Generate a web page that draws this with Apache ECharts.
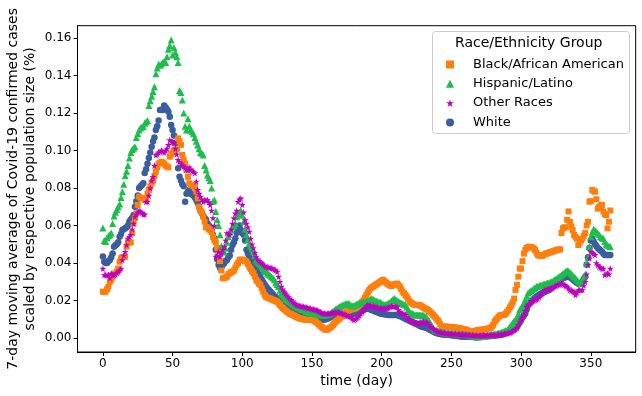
<!DOCTYPE html>
<html>
<head>
<meta charset="utf-8">
<script src="https://cdn.jsdelivr.net/npm/echarts@6/dist/echarts.min.js"></script>
<style>
html,body{margin:0;padding:0;background:#fff;}
#chart{width:642px;height:396px;}
</style>
</head>
<body>
<div id="chart"></div>
<script>
// group names, as in the legend
var groups = ['Black/African American', 'Hispanic/Latino', 'Other Races', 'White'];

var xTicks = [0, 50, 100, 150, 200, 250, 300, 350];
var yTicks = [0, 0.02, 0.04, 0.06, 0.08, 0.10, 0.12, 0.14, 0.16];

// 7-day moving average, % of population, day 0..364
var black = [
.0247,.0245,.0247,.0260,.0274,.0300,.0310,.0327,.0340,.0345,
.0354,.0370,.0407,.0425,.0430,.0432,.0434,.0487,.0510,.0510,
.0510,.0560,.0610,.0640,.0665,.0710,.0754,.0748,.0745,.0745,
.0736,.0745,.0770,.0790,.0807,.0825,.0840,.0865,.0887,.0910,
.0930,.0935,.0940,.0935,.0930,.0920,.0915,.0910,.0967,.0980,
.0990,.1000,.1005,.1010,.1065,.1050,.1030,.0976,.0950,.0930,
.0896,.0860,.0825,.0816,.0815,.0810,.0807,.0780,.0745,.0700,
.0680,.0670,.0647,.0620,.0590,.0590,.0580,.0576,.0565,.0540,
.0520,.0510,.0480,.0460,.0410,.0360,.0318,.0320,.0323,.0327,
.0340,.0345,.0350,.0354,.0360,.0375,.0390,.0400,.0416,.0418,
.0418,.0416,.0410,.0407,.0395,.0380,.0368,.0355,.0345,.0328,
.0310,.0300,.0290,.0283,.0265,.0247,.0230,.0220,.0215,.0212,
.0210,.0206,.0203,.0200,.0197,.0194,.0185,.0176,.0167,.0160,
.0153,.0146,.0140,.0135,.0130,.0127,.0123,.0120,.0116,.0112,
.0108,.0105,.0103,.0101,.0099,.0098,.0096,.0096,.0096,.0096,
.0096,.0096,.0090,.0084,.0078,.0072,.0065,.0058,.0052,.0047,
.0043,.0045,.0050,.0055,.0060,.0068,.0078,.0087,.0093,.0098,
.0105,.0113,.0122,.0130,.0135,.0140,.0145,.0150,.0152,.0154,
.0156,.0158,.0164,.0170,.0176,.0184,.0192,.0200,.0215,.0230,
.0242,.0255,.0265,.0270,.0274,.0280,.0285,.0290,.0295,.0300,
.0305,.0310,.0303,.0296,.0290,.0285,.0280,.0277,.0282,.0286,
.0288,.0290,.0282,.0274,.0260,.0247,.0238,.0229,.0220,.0207,
.0194,.0188,.0183,.0179,.0176,.0176,.0176,.0176,.0171,.0167,
.0162,.0158,.0154,.0150,.0143,.0137,.0130,.0122,.0114,.0105,
.0096,.0087,.0073,.0060,.0060,.0060,.0060,.0060,.0059,.0058,
.0057,.0057,.0056,.0055,.0054,.0053,.0052,.0050,.0048,.0046,
.0045,.0043,.0038,.0034,.0034,.0034,.0034,.0037,.0039,.0043,
.0042,.0043,.0044,.0046,.0047,.0048,.0050,.0051,.0052,.0060,
.0070,.0087,.0096,.0105,.0114,.0120,.0123,.0123,.0123,.0130,
.0140,.0150,.0163,.0176,.0190,.0210,.0256,.0283,.0327,.0370,
.0370,.0410,.0450,.0470,.0480,.0485,.0487,.0485,.0482,.0480,
.0470,.0455,.0443,.0440,.0438,.0437,.0442,.0446,.0450,.0452,
.0455,.0458,.0460,.0463,.0465,.0468,.0470,.0472,.0473,.0560,
.0585,.0590,.0590,.0630,.0675,.0620,.0595,.0576,.0550,.0540,
.0530,.0496,.0510,.0520,.0530,.0545,.0560,.0600,.0620,.0727,
.0730,.0790,.0785,.0780,.0740,.0690,.0700,.0705,.0710,.0675,
.0660,.0656,.0585,.0620,.0680
];

var hispanic = [
.0587,.0520,.0515,.0535,.0545,.0550,.0560,.0610,.0650,.0670,
.0685,.0700,.0715,.0750,.0780,.0820,.0865,.0890,.0920,.0960,
.0990,.1005,.1012,.1020,.1070,.1090,.1110,.1120,.1125,.1130,
.1145,.1152,.1160,.1240,.1265,.1290,.1315,.1340,.1410,.1440,
.1460,.1455,.1462,.1470,.1475,.1470,.1500,.1540,.1560,.1590,
.1510,.1550,.1525,.1500,.1470,.1320,.1310,.1270,.1200,.1130,
.1110,.1170,.1130,.1110,.1100,.1090,.1070,.1050,.1030,.1010,
.0990,.0985,.0976,.0920,.0896,.0870,.0855,.0840,.0800,.0730,
.0736,.0675,.0630,.0600,.0550,.0490,.0460,.0460,.0480,.0510,
.0540,.0565,.0576,.0590,.0598,.0610,.0647,.0660,.0670,.0680,
.0655,.0620,.0580,.0550,.0525,.0505,.0490,.0475,.0460,.0438,
.0416,.0405,.0398,.0390,.0380,.0370,.0360,.0354,.0345,.0340,
.0335,.0327,.0320,.0310,.0295,.0285,.0274,.0255,.0240,.0230,
.0220,.0210,.0205,.0198,.0194,.0188,.0180,.0176,.0170,.0167,
.0162,.0160,.0155,.0152,.0150,.0145,.0140,.0138,.0135,.0133,
.0132,.0130,.0130,.0128,.0126,.0125,.0124,.0123,.0122,.0123,
.0123,.0125,.0128,.0130,.0136,.0142,.0148,.0153,.0158,.0163,
.0168,.0172,.0176,.0178,.0181,.0183,.0185,.0180,.0175,.0170,
.0172,.0176,.0180,.0183,.0185,.0187,.0189,.0190,.0192,.0194,
.0198,.0202,.0206,.0210,.0205,.0200,.0197,.0195,.0192,.0190,
.0185,.0180,.0176,.0178,.0182,.0185,.0190,.0198,.0205,.0210,
.0205,.0200,.0195,.0190,.0186,.0182,.0178,.0176,.0165,.0150,
.0140,.0135,.0130,.0126,.0123,.0123,.0124,.0123,.0122,.0123,
.0120,.0117,.0114,.0100,.0090,.0078,.0065,.0052,.0043,.0040,
.0038,.0036,.0034,.0032,.0030,.0029,.0028,.0027,.0026,.0025,
.0025,.0024,.0023,.0023,.0022,.0021,.0021,.0020,.0020,.0019,
.0018,.0018,.0017,.0016,.0014,.0012,.0010,.0008,.0006,.0005,
.0007,.0008,.0009,.0010,.0011,.0012,.0013,.0015,.0016,.0018,
.0019,.0020,.0022,.0024,.0026,.0028,.0030,.0033,.0036,.0040,
.0043,.0050,.0060,.0070,.0080,.0090,.0098,.0105,.0128,.0150,
.0160,.0172,.0185,.0205,.0222,.0240,.0246,.0252,.0256,.0262,
.0268,.0274,.0276,.0279,.0281,.0283,.0286,.0288,.0290,.0293,
.0295,.0298,.0300,.0305,.0310,.0315,.0320,.0325,.0330,.0336,
.0342,.0348,.0355,.0360,.0356,.0350,.0342,.0335,.0327,.0320,
.0310,.0300,.0290,.0302,.0310,.0320,.0340,.0400,.0430,.0487,
.0540,.0565,.0580,.0575,.0567,.0558,.0550,.0540,.0535,.0530,
.0515,.0500,.0495,.0490,.0487
];

var other = [
.0370,.0336,.0336,.0336,.0336,.0320,.0345,.0335,.0336,.0340,
.0348,.0354,.0360,.0370,.0416,.0440,.0460,.0496,.0530,.0540,
.0550,.0580,.0610,.0647,.0660,.0670,.0680,.0675,.0668,.0660,
.0660,.0727,.0727,.0760,.0800,.0840,.0860,.0920,.0976,.0980,
.0990,.0995,.1000,.0995,.0990,.1000,.1010,.1030,.1056,.1050,
.1045,.1040,.1010,.0980,.0950,.0940,.0930,.0920,.0915,.0910,
.0900,.0896,.0910,.0900,.0890,.0887,.0880,.0835,.0790,.0770,
.0755,.0740,.0727,.0736,.0736,.0736,.0725,.0710,.0680,.0640,
.0600,.0434,.0440,.0460,.0434,.0450,.0470,.0487,.0520,.0560,
.0555,.0550,.0580,.0610,.0640,.0665,.0680,.0727,.0740,.0745,
.0710,.0670,.0630,.0610,.0590,.0567,.0530,.0500,.0480,.0455,
.0434,.0420,.0410,.0405,.0400,.0392,.0385,.0380,.0378,.0376,
.0374,.0372,.0370,.0365,.0360,.0354,.0327,.0300,.0274,.0260,
.0247,.0238,.0228,.0218,.0210,.0203,.0195,.0188,.0182,.0176,
.0174,.0172,.0170,.0168,.0167,.0165,.0163,.0160,.0158,.0157,
.0155,.0153,.0151,.0150,.0146,.0142,.0138,.0134,.0130,.0130,
.0130,.0130,.0130,.0130,.0132,.0135,.0137,.0139,.0140,.0138,
.0135,.0132,.0130,.0127,.0124,.0120,.0117,.0114,.0110,.0103,
.0096,.0100,.0105,.0110,.0120,.0130,.0140,.0150,.0160,.0170,
.0176,.0175,.0173,.0171,.0170,.0167,.0165,.0162,.0160,.0158,
.0158,.0158,.0158,.0158,.0158,.0163,.0167,.0170,.0169,.0168,
.0167,.0167,.0150,.0140,.0135,.0130,.0127,.0123,.0113,.0104,
.0096,.0092,.0088,.0084,.0080,.0078,.0080,.0082,.0084,.0086,
.0087,.0085,.0083,.0080,.0070,.0060,.0055,.0050,.0043,.0038,
.0034,.0032,.0030,.0029,.0028,.0027,.0026,.0025,.0024,.0023,
.0022,.0022,.0021,.0021,.0020,.0020,.0019,.0019,.0018,.0018,
.0017,.0017,.0016,.0016,.0015,.0015,.0014,.0014,.0013,.0013,
.0013,.0013,.0013,.0014,.0014,.0014,.0015,.0015,.0015,.0016,
.0016,.0016,.0016,.0017,.0018,.0019,.0020,.0021,.0022,.0024,
.0026,.0027,.0028,.0032,.0036,.0041,.0046,.0052,.0070,.0087,
.0099,.0111,.0123,.0145,.0167,.0174,.0181,.0188,.0194,.0198,
.0202,.0206,.0210,.0219,.0228,.0237,.0246,.0256,.0258,.0260,
.0262,.0263,.0265,.0270,.0274,.0279,.0283,.0285,.0287,.0289,
.0290,.0283,.0278,.0274,.0265,.0256,.0253,.0250,.0247,.0230,
.0240,.0256,.0256,.0256,.0256,.0280,.0300,.0340,.0390,.0425,
.0460,.0455,.0450,.0443,.0400,.0390,.0380,.0375,.0370,.0370,
.0336,.0340,.0345,.0340,.0370
];

var white = [
.0434,.0407,.0400,.0400,.0410,.0416,.0430,.0450,.0487,.0495,
.0500,.0510,.0540,.0555,.0576,.0580,.0585,.0590,.0600,.0620,
.0630,.0640,.0656,.0700,.0730,.0760,.0800,.0810,.0816,.0825,
.0880,.0900,.0930,.0960,.0990,.1020,.1050,.1070,.1110,.1130,
.1160,.1216,.1218,.1216,.1240,.1230,.1220,.1207,.1180,.1136,
.1110,.1080,.1040,.1010,.0905,.0860,.0840,.0820,.0810,.0727,
.0770,.0780,.0790,.0770,.0765,.0760,.0750,.0736,.0720,.0700,
.0680,.0665,.0650,.0640,.0630,.0610,.0600,.0590,.0576,.0550,
.0530,.0470,.0420,.0390,.0375,.0378,.0390,.0398,.0410,.0416,
.0430,.0440,.0470,.0496,.0510,.0530,.0560,.0585,.0600,.0576,
.0560,.0550,.0520,.0470,.0450,.0434,.0420,.0410,.0400,.0380,
.0365,.0354,.0340,.0325,.0310,.0297,.0285,.0274,.0265,.0257,
.0248,.0240,.0232,.0224,.0217,.0210,.0203,.0197,.0190,.0185,
.0180,.0174,.0168,.0163,.0158,.0154,.0150,.0146,.0143,.0140,
.0137,.0134,.0130,.0127,.0123,.0120,.0117,.0114,.0111,.0109,
.0107,.0105,.0103,.0101,.0099,.0097,.0096,.0097,.0098,.0099,
.0100,.0103,.0107,.0111,.0113,.0114,.0115,.0115,.0114,.0116,
.0118,.0119,.0120,.0121,.0122,.0123,.0124,.0126,.0127,.0129,
.0130,.0132,.0135,.0138,.0140,.0143,.0147,.0150,.0154,.0158,
.0157,.0155,.0152,.0149,.0146,.0143,.0140,.0137,.0134,.0131,
.0129,.0128,.0127,.0125,.0124,.0123,.0123,.0123,.0122,.0122,
.0123,.0123,.0120,.0117,.0114,.0110,.0106,.0102,.0099,.0096,
.0092,.0088,.0085,.0081,.0078,.0074,.0070,.0066,.0063,.0060,
.0058,.0056,.0054,.0052,.0047,.0042,.0038,.0034,.0031,.0028,
.0025,.0023,.0021,.0020,.0019,.0019,.0018,.0017,.0017,.0016,
.0015,.0014,.0013,.0012,.0011,.0010,.0009,.0008,.0008,.0007,
.0007,.0007,.0007,.0007,.0006,.0005,.0005,.0004,.0004,.0005,
.0006,.0007,.0007,.0008,.0008,.0009,.0009,.0010,.0010,.0011,
.0012,.0013,.0014,.0015,.0016,.0017,.0018,.0020,.0023,.0026,
.0029,.0031,.0034,.0039,.0044,.0049,.0054,.0060,.0072,.0084,
.0096,.0110,.0120,.0130,.0152,.0176,.0185,.0193,.0200,.0207,
.0214,.0220,.0225,.0230,.0235,.0240,.0243,.0247,.0250,.0253,
.0256,.0262,.0268,.0274,.0281,.0288,.0295,.0300,.0307,.0314,
.0320,.0322,.0324,.0326,.0327,.0324,.0320,.0313,.0306,.0300,
.0295,.0290,.0290,.0290,.0302,.0315,.0327,.0390,.0430,.0480,
.0520,.0530,.0515,.0500,.0490,.0480,.0473,.0466,.0460,.0451,
.0443,.0443,.0443,.0443,.0443
];

var FONT = 'DejaVu Sans';
var STAR = 'path://M50,0 L61,35 L98,35 L68,57 L79,91 L50,70 L21,91 L32,57 L2,35 L39,35 Z';

function toPoints(values){
    return values.map(function(v, day){ return [day, v]; });
}

function makeSeries(name, values, symbol, size, color, z){
    return {
        name: name,
        type: 'scatter',
        data: toPoints(values),
        symbol: symbol,
        symbolSize: size,
        z: z,
        itemStyle: { color: color, opacity: 1 },
        emphasis: { disabled: true }
    };
}

var chart = echarts.init(document.getElementById('chart'), null, { renderer: 'canvas' });

var option = {
    animation: false,
    backgroundColor: '#fff',
    textStyle: { fontFamily: FONT },
    grid: {
        left: 77.5, right: 6.3, top: 25.7, bottom: 44,
        show: true, borderColor: '#000', borderWidth: 1,
        outerBoundsMode: 'none'
    },
    xAxis: {
        type: 'value',
        min: -18.2, max: 382.2,
        name: 'time (day)',
        nameLocation: 'middle',
        nameGap: 22,
        nameMoveOverlap: false,
        nameTextStyle: { fontSize: 14, color: '#000', fontFamily: FONT },
        axisLine: { show: true, onZero: false, lineStyle: { color: '#000' } },
        axisTick: { show: true, length: 4, lineStyle: { color: '#000' }, customValues: xTicks },
        axisLabel: { color: '#000', fontSize: 12, fontFamily: FONT, margin: 6, customValues: xTicks },
        splitLine: { show: false }
    },
    yAxis: {
        type: 'value',
        min: -0.0075, max: 0.1666,
        name: '7-day moving average of Covid-19 confirmed cases\nscaled by respective population size (%)',
        nameLocation: 'middle',
        nameGap: 39,
        nameMoveOverlap: false,
        nameTextStyle: { fontSize: 14, lineHeight: 17, color: '#000', fontFamily: FONT },
        axisLine: { show: true, onZero: false, lineStyle: { color: '#000' } },
        axisTick: { show: true, length: 4, lineStyle: { color: '#000' }, customValues: yTicks },
        axisLabel: {
            color: '#000', fontSize: 12, fontFamily: FONT, margin: 6,
            customValues: yTicks,
            formatter: function(v){ return v.toFixed(2); }
        },
        splitLine: { show: false }
    },
    legend: {
        orient: 'vertical',
        left: 441, top: 53,
        z: 5,
        itemWidth: 8, itemHeight: 8,
        itemGap: 6.3,
        data: groups,
        textStyle: { fontSize: 13, color: '#000', fontFamily: FONT, padding: [0, 0, 0, 14] }
    },
    graphic: [
        {
            type: 'rect', z: 4,
            shape: { x: 432.5, y: 31.5, width: 197, height: 102, r: 3 },
            style: { fill: 'rgba(255,255,255,0.8)', stroke: '#cccccc', lineWidth: 1 }
        },
        {
            type: 'text', z: 5,
            left: 455, top: 36,
            style: { text: 'Race/Ethnicity Group', fontSize: 14, fill: '#000', fontFamily: FONT }
        }
    ],
    series: [
        makeSeries(groups[0], black, 'rect', 6, '#ff7f0e', 2),
        makeSeries(groups[1], hispanic, 'triangle', 7, '#1fbd4c', 2),
        makeSeries(groups[2], other, STAR, 7, '#bf00bf', 2),
        makeSeries(groups[3], white, 'circle', 6.5, '#3a5d9e', 1)
    ]
};

chart.setOption(option);
</script>
</body>
</html>
